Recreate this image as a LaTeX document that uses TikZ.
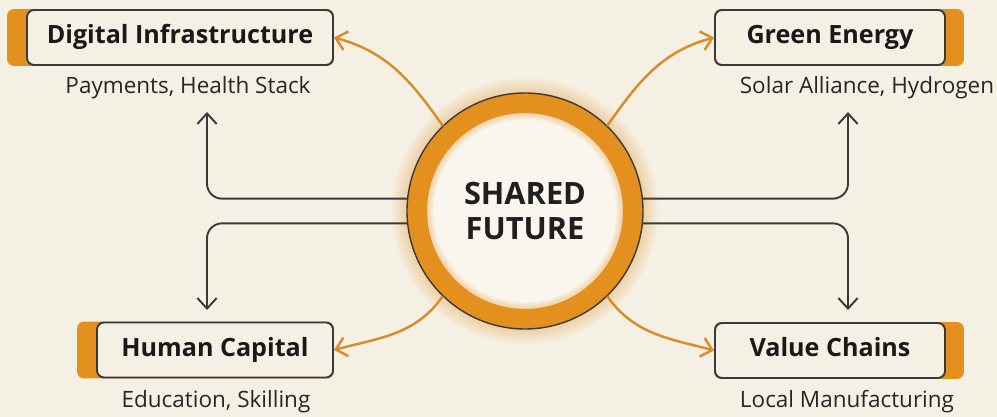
\documentclass[tikz,border=0pt]{standalone}
\usepackage{fontspec}
\setmainfont{Open Sans}
\usetikzlibrary{arrows.meta, backgrounds}

\definecolor{paper}{HTML}{F5F0E4}
\definecolor{inner}{HTML}{FAF6EE}
\definecolor{amber}{HTML}{E3901E}
\definecolor{wire}{HTML}{D98C2B}
\definecolor{ink}{HTML}{3A3A3A}

\begin{document}
\begin{tikzpicture}[
    pillar/.style = {draw = ink, line width = 1.1pt, fill = paper, rounded corners = 4pt, minimum height = 1.1cm, text height = 1.45ex, text depth = 0.1ex, font = \fontsize{14.3}{17}\selectfont\bfseries, text = black!90},
    note/.style = {font = \fontsize{12.8}{15}\selectfont, text = black!85},
    link/.style = {draw = ink, line width = 1.1pt, rounded corners = 0.3cm, -{Straight Barb[length = 6pt, width = 11pt]}},
    feed/.style = {draw = wire, line width = 1.4pt, -{Straight Barb[length = 6pt, width = 11pt]}}]
  \useasboundingbox (0,0) rectangle (19.94,8.34);

  % centre ring
  \coordinate (c) at (10.5,4.12);
  \foreach \g in {0.30,0.26,...,0.02}
    \fill[amber, opacity = 0.045] (c) circle (2.36 + \g);
  \fill[inner] (c) circle (1.96);
  \foreach \g in {1,...,6}
    \draw[amber, opacity = 0.06, line width = \g*1.3pt] (c) circle (1.96);
  \draw[amber, line width = 0.4cm] (c) circle (2.16);
  \draw[ink, line width = 0.8pt] (c) circle (2.36);
  \node[circle, minimum size = 4.72cm, inner sep = 0pt, align = center, font = \fontsize{17.5}{20}\selectfont\bfseries, text = black!88] (core) at (c) {SHARED\\FUTURE};

  % the four pillars
  \node[pillar, minimum width = 6.12cm] (dig) at (3.6,7.59) {Digital Infrastructure};
  \node[pillar, minimum width = 4.6cm] (green) at (16.6,7.59) {Green Energy};
  \node[pillar, minimum width = 4.72cm] (human) at (4.3,1.34) {Human Capital};
  \node[pillar, minimum width = 4.6cm] (value) at (16.6,1.33) {Value Chains};

  \node[note] (digsub) at (3.76,6.58) {Payments, Health Stack};
  \node[note] (greensub) at (17.34,6.58) {Solar Alliance, Hydrogen};
  \node[note] (humansub) at (4.32,0.30) {Education, Skilling};
  \node[note] (valuesub) at (16.94,0.30) {Local Manufacturing};

  \begin{scope}[on background layer]
    \fill[paper] (0,0) rectangle (19.94,8.34);
    \fill[amber, rounded corners = 4pt] ([xshift = -0.38cm]dig.north west) rectangle (dig.south east);
    \fill[amber, rounded corners = 4pt] (green.north west) rectangle ([xshift = 0.36cm]green.south east);
    \fill[amber, rounded corners = 4pt] ([xshift = -0.38cm]human.north west) rectangle (human.south east);
    \fill[amber, rounded corners = 4pt] (value.north west) rectangle ([xshift = 0.36cm]value.south east);
  \end{scope}

  % elbow links
  \coordinate (dtip) at (4.14,6.1);
  \coordinate (gtip) at (16.96,6.1);
  \coordinate (htip) at (4.14,2.14);
  \coordinate (vtip) at (16.96,2.14);
  \draw[link] (core.174) -| (dtip);
  \draw[link] (core.6) -| (gtip);
  \draw[link] (core.186) -| (htip);
  \draw[link] (core.-6) -| (vtip);

  % curved feeds
  \draw[feed] (core.134) to[out = 125, in = -15] (dig.east);
  \draw[feed] (core.46) to[out = 55, in = 195] (green.west);
  \draw[feed] (core.226) to[out = 235, in = 15] (human.east);
  \draw[feed] (core.-46) to[out = -55, in = 165] (value.west);
\end{tikzpicture}
\end{document}
